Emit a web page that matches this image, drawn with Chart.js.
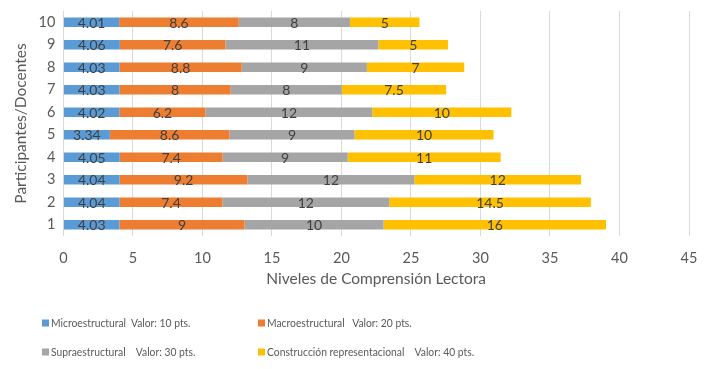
<!DOCTYPE html>
<html>
<head>
<meta charset="utf-8">
<script src="https://cdn.jsdelivr.net/npm/chart.js@4/dist/chart.umd.min.js"></script>
<style>
  html, body { margin: 0; padding: 0; background: #fff; }
  #wrap { width: 718px; height: 369px; }
</style>
</head>
<body>
<div id="wrap"><canvas id="grafico"></canvas></div>
<script>
// Datos
const participantes = ['1', '2', '3', '4', '5', '6', '7', '8', '9', '10'];
const microestructural = [4.03, 4.04, 4.04, 4.05, 3.34, 4.02, 4.03, 4.03, 4.06, 4.01];
const macroestructural = [9, 7.4, 9.2, 7.4, 8.6, 6.2, 8, 8.8, 7.6, 8.6];
const supraestructural = [10, 12, 12, 9, 9, 12, 8, 9, 11, 8];
const construccion = [16, 14.5, 12, 11, 10, 10, 7.5, 7, 5, 5];
const nombresSeries = [
    'Microestructural  Valor: 10 pts.',
    'Macroestructural   Valor: 20 pts.',
    'Supraestructural    Valor: 30 pts.',
    'Construcción representacional    Valor: 40 pts.'
];
const colores = ['#5B9BD5', '#ED7D31', '#A5A5A5', '#FFC000'];

const fuente = "Lato, 'Open Sans', sans-serif";

// Etiquetas de valor dentro de cada segmento
const etiquetasValor = {
    id: 'etiquetasValor',
    afterDatasetsDraw(chart) {
        const ctx = chart.ctx;
        ctx.save();
        ctx.font = '14px ' + fuente;
        ctx.fillStyle = '#404040';
        ctx.textAlign = 'center';
        ctx.textBaseline = 'middle';
        chart.data.datasets.forEach((ds, i) => {
            chart.getDatasetMeta(i).data.forEach((bar, j) => {
                const cx = (bar.x + bar.base) / 2;
                ctx.fillText(String(ds.data[j]), cx, bar.y + 1);
            });
        });
        ctx.restore();
    }
};

// Leyenda en dos columnas, abajo (texto estrecho tipo Calibri)
const leyenda = {
    id: 'leyenda',
    afterDraw(chart) {
        const ctx = chart.ctx;
        const cols = [42, 258];
        const filas = [323, 352];
        ctx.save();
        ctx.font = '12px ' + fuente;
        ctx.textBaseline = 'middle';
        chart.data.datasets.forEach((ds, i) => {
            const x = cols[i % 2];
            const y = filas[Math.floor(i / 2)];
            ctx.fillStyle = ds.backgroundColor;
            ctx.fillRect(x, y - 3.5, 7, 7);
            ctx.save();
            ctx.translate(x + 9, y);
            ctx.scale(0.86, 1);
            ctx.fillStyle = '#595959';
            ctx.textAlign = 'left';
            ctx.fillText(ds.label.replace(/ {2,}/g, m => '\u00a0'.repeat(m.length)), 0, 0);
            ctx.restore();
        });
        ctx.restore();
    }
};

const series = [microestructural, macroestructural, supraestructural, construccion];

const config = {
    type: 'bar',
    data: {
        labels: participantes,
        datasets: series.map((valores, i) => ({
            label: nombresSeries[i],
            data: valores,
            backgroundColor: colores[i],
            borderWidth: 0,
            categoryPercentage: 1,
            barPercentage: 0.42
        }))
    },
    options: {
        indexAxis: 'y',
        responsive: true,
        maintainAspectRatio: false,
        animation: false,
        layout: {
            padding: { left: 8, right: 29, top: 11, bottom: 77 }
        },
        plugins: {
            legend: { display: false },
            tooltip: { enabled: false }
        },
        scales: {
            x: {
                stacked: true,
                min: 0,
                max: 45,
                ticks: {
                    stepSize: 5,
                    color: '#595959',
                    font: { family: fuente, size: 14.5 },
                    padding: 14
                },
                grid: {
                    color: '#d9d9d9',
                    drawTicks: false
                },
                border: { display: false },
                title: {
                    display: true,
                    text: 'Niveles de Comprensión Lectora',
                    color: '#595959',
                    font: { family: fuente, size: 15.5 },
                    padding: { top: -12, bottom: 4 }
                }
            },
            y: {
                stacked: true,
                reverse: true,
                afterFit: (scale) => { scale.paddingTop = 0; },
                ticks: {
                    color: '#595959',
                    font: { family: fuente, size: 14.5 },
                    padding: 8
                },
                grid: { display: false, drawTicks: false },
                border: { display: false },
                title: {
                    display: true,
                    text: 'Participantes/Docentes',
                    color: '#595959',
                    font: { family: fuente, size: 15.5 },
                    padding: { bottom: 0 }
                }
            }
        }
    },
    plugins: [etiquetasValor, leyenda]
};

const ctx = document.getElementById('grafico').getContext('2d');
new Chart(ctx, config);
</script>
</body>
</html>
